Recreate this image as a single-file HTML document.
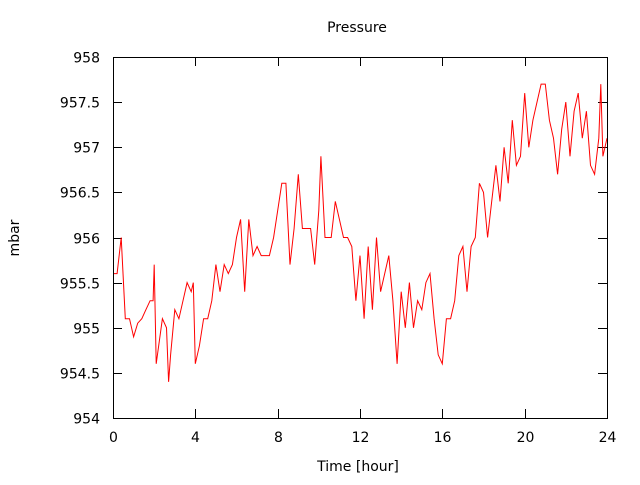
<!DOCTYPE html>
<html><head><meta charset="utf-8"><style>
body{margin:0;background:#fff}
svg text{font-family:"DejaVu Sans","Liberation Sans",sans-serif;font-size:14px;fill:#000}
</style></head><body>
<svg id="chart" width="640" height="480" xmlns="http://www.w3.org/2000/svg">
<rect width="640" height="480" fill="#fff"/>
<text x="357" y="32" text-anchor="middle">Pressure</text>
<text x="358" y="471" text-anchor="middle">Time [hour]</text>
<text x="19" y="238" text-anchor="middle" transform="rotate(-90 19 238)">mbar</text>
<g id="axes" shape-rendering="crispEdges"></g>
<polyline id="series" fill="none" stroke="#f00" stroke-width="1"/>
<rect x="113.5" y="57.5" width="494" height="361" fill="none" stroke="#000" stroke-width="1" shape-rendering="crispEdges"/>
</svg>
<script>
const xTicks=[0,4,8,12,16,20,24];
const yTicks=[954,954.5,955,955.5,956,956.5,957,957.5,958];
const yTickLabels=["954","954.5","955","955.5","956","956.5","957","957.5","958"];
const times=[0,0.2,0.4,0.6,0.8,1.0,1.2,1.4,1.6,1.8,1.95,2.0,2.1,2.4,2.6,2.7,2.8,3.0,3.2,3.4,3.6,3.8,3.9,4.0,4.2,4.4,4.6,4.8,5.0,5.2,5.4,5.6,5.8,6.0,6.2,6.4,6.6,6.8,7.0,7.2,7.4,7.6,7.8,8.0,8.2,8.4,8.6,8.8,9.0,9.2,9.4,9.6,9.8,10.0,10.1,10.3,10.6,10.8,11.0,11.2,11.4,11.6,11.8,12.0,12.2,12.4,12.6,12.8,13.0,13.2,13.4,13.6,13.8,14.0,14.2,14.4,14.6,14.8,15.0,15.2,15.4,15.6,15.8,16.0,16.2,16.4,16.6,16.8,17.0,17.2,17.4,17.6,17.8,18.0,18.2,18.4,18.6,18.8,19.0,19.2,19.4,19.6,19.8,20.0,20.2,20.4,20.6,20.8,21.0,21.2,21.4,21.6,21.8,22.0,22.2,22.4,22.6,22.8,23.0,23.2,23.4,23.6,23.7,23.8,24.0];
const values=[955.6,955.6,956.0,955.1,955.1,954.9,955.05,955.1,955.2,955.3,955.3,955.7,954.6,955.1,955.0,954.4,954.7,955.2,955.1,955.3,955.5,955.4,955.5,954.6,954.8,955.1,955.1,955.3,955.7,955.4,955.7,955.6,955.7,956.0,956.2,955.4,956.2,955.8,955.9,955.8,955.8,955.8,956.0,956.3,956.6,956.6,955.7,956.1,956.7,956.1,956.1,956.1,955.7,956.3,956.9,956.0,956.0,956.4,956.2,956.0,956.0,955.9,955.3,955.8,955.1,955.9,955.2,956.0,955.4,955.6,955.8,955.3,954.6,955.4,955.0,955.5,955.0,955.3,955.2,955.5,955.6,955.1,954.7,954.6,955.1,955.1,955.3,955.8,955.9,955.4,955.9,956.0,956.6,956.5,956.0,956.4,956.8,956.4,957.0,956.6,957.3,956.8,956.9,957.6,957.0,957.3,957.5,957.7,957.7,957.3,957.1,956.7,957.2,957.5,956.9,957.4,957.6,957.1,957.4,956.8,956.7,957.1,957.7,956.9,957.1];
const X0=113,X1=607,Y0=418,Y1=57;
function xs(t){return X0+(t-0)/(24-0)*(X1-X0);}
function ys(v){return Y0-(v-954)/(958-954)*(Y0-Y1);}
const NS="http://www.w3.org/2000/svg";
const axes=document.getElementById('axes');
function mk(tag,attrs){const e=document.createElementNS(NS,tag);for(const k in attrs)e.setAttribute(k,attrs[k]);return e;}
xTicks.forEach(t=>{
  const x=Math.round(xs(t))+0.5;
  const a=mk('line',{x1:x,y1:Y0,x2:x,y2:Y0-9,stroke:'#000'});
  
  
  axes.appendChild(a);
  const b=mk('line',{x1:x,y1:Y1,x2:x,y2:Y1+9,stroke:'#000'});
  
  
  axes.appendChild(b);
  const l=mk('text',{x:x,y:442,'text-anchor':'middle'});
  l.textContent=String(t);
  
  
  axes.appendChild(l);
});
yTicks.forEach((v,i)=>{
  const y=Math.round(ys(v))+0.5;
  const a=mk('line',{x1:X0,y1:y,x2:X0+9,y2:y,stroke:'#000'});
  
  
  axes.appendChild(a);
  const b=mk('line',{x1:X1,y1:y,x2:X1-9,y2:y,stroke:'#000'});
  
  
  axes.appendChild(b);
  const l=mk('text',{x:100,y:y+5,'text-anchor':'end'});
  l.textContent=yTickLabels[i];
  
  
  axes.appendChild(l);
});
document.getElementById('series').setAttribute('points',times.map((t,i)=>xs(t).toFixed(1)+','+ys(values[i]).toFixed(1)).join(' '));
</script>
</body></html>
